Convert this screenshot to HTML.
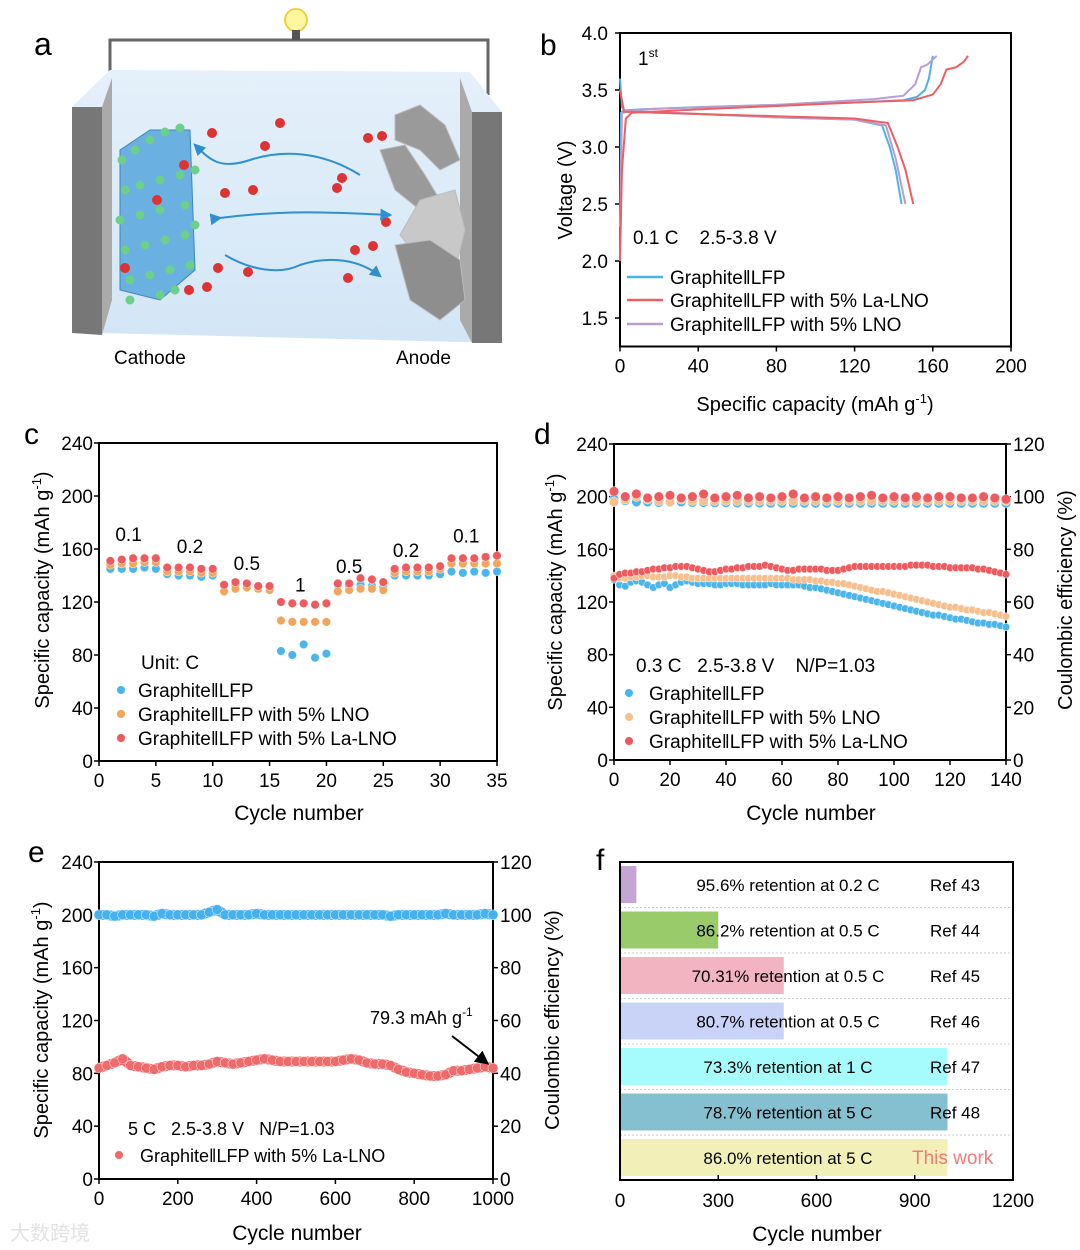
<!DOCTYPE html>
<html><head><meta charset="utf-8"><style>
body{margin:0;background:#fff}
svg{display:block;font-family:"Liberation Sans",Arial,sans-serif}
.pre{white-space:pre}
</style></head><body>
<svg id="fig" width="1080" height="1250" viewBox="0 0 1080 1250" xmlns="http://www.w3.org/2000/svg">
<defs>
<linearGradient id="water" x1="0" y1="0" x2="0" y2="1"><stop offset="0" stop-color="#e4f0fa"/><stop offset="1" stop-color="#d3e6f6"/></linearGradient>
<marker id="ah" viewBox="0 0 10 10" refX="8" refY="5" markerWidth="6" markerHeight="6" orient="auto"><path d="M0,0 L10,5 L0,10 z" fill="#2f8fcf"/></marker>
<marker id="ahk" viewBox="0 0 10 10" refX="8" refY="5" markerWidth="7" markerHeight="7" orient="auto"><path d="M0,0 L10,5 L0,10 z" fill="#000"/></marker>
</defs>
<g>
<text x="34" y="55" font-size="32">a</text>
<polyline points="110,82 110,40 488,40 488,95" fill="none" stroke="#666" stroke-width="3"/>
<circle cx="296" cy="20" r="11" fill="#fff6a0" stroke="#f0d040" stroke-width="2"/>
<rect x="292" y="30" width="8" height="10" fill="#555"/>
<polygon points="110,70 470,72 502,112 502,343 100,333 72,107" fill="url(#water)"/>
<polygon points="72,107 102,107 102,335 72,333" fill="#777"/>
<polygon points="102,107 112,78 112,300 102,335" fill="#aaa"/>
<polygon points="472,112 502,112 502,343 472,343" fill="#777"/>
<polygon points="460,78 472,112 472,343 460,320" fill="#aaa"/>
<g fill="#6ab0e0" stroke="#3a88c0" stroke-width="1">
<polygon points="120,150 150,130 190,130 195,270 160,300 120,290"/>
</g>
<g id="crystalDots" fill="#6ccf8a"></g>
<g fill="#9a9a9a" stroke="#bbb" stroke-width="1">
<polygon points="395,115 420,105 445,125 460,160 440,170 420,150 395,140"/>
<polygon points="380,150 405,145 425,175 440,200 420,210 395,190"/>
<polygon points="420,200 455,190 465,230 455,270 420,260 400,235" fill="#c8c8c8"/>
<polygon points="395,245 430,240 460,260 465,300 440,320 410,300" fill="#8e8e8e"/>
</g>
<g id="ions" fill="#d33"></g>
<path d="M360,175 C320,150 280,150 250,160 C220,170 210,160 195,145" fill="none" stroke="#2f8fcf" stroke-width="2" marker-end="url(#ah)"/>
<path d="M220,218 C280,210 330,212 390,215" fill="none" stroke="#2f8fcf" stroke-width="2" marker-end="url(#ah)" marker-start="url(#ah)"/>
<path d="M225,255 C250,270 280,275 300,265 C330,255 360,260 380,276" fill="none" stroke="#2f8fcf" stroke-width="2" marker-end="url(#ah)"/>
<text x="114" y="364" font-size="19">Cathode</text>
<text x="396" y="364" font-size="19">Anode</text>
</g>
<g id="charts"></g>
</svg>
<script>
// ===== Panel b data =====
const bBlueChgX=[0,0.5,2,10,40,80,120,145,152,156,158,160];
const bBlueChgY=[2.0,3.3,3.32,3.33,3.35,3.37,3.39,3.41,3.44,3.5,3.6,3.8];
const bBlueDisX=[0,1,3,40,80,120,134,138,141,144];
const bBlueDisY=[3.6,3.35,3.31,3.29,3.26,3.24,3.19,3.0,2.8,2.5];
const bRedChgX=[0,1,3,6,40,80,120,150,160,164,167,172,176,178];
const bRedChgY=[2.0,2.8,3.25,3.3,3.33,3.36,3.39,3.41,3.46,3.55,3.68,3.7,3.75,3.8];
const bRedDisX=[0,2,40,80,120,137,142,146,150];
const bRedDisY=[3.5,3.31,3.29,3.27,3.25,3.21,3.0,2.8,2.5];
const bPurChgX=[0,1,10,80,130,145,151,154,157,162];
const bPurChgY=[2.3,3.3,3.33,3.37,3.42,3.45,3.55,3.7,3.72,3.8];
const bPurDisX=[0,2,80,120,136,141,146];
const bPurDisY=[3.5,3.32,3.26,3.24,3.19,2.9,2.5];
const bXTicks=[0,40,80,120,160,200];
const bYTicks=["1.5","2.0","2.5","3.0","3.5","4.0"];
// ===== Panel c data =====
const cBlue=[145,145,145,146,145,141,140,140,139,140,133,133,131,132,132,83,80,88,78,81,133,132,133,132,131,140,140,140,140,141,143,142,143,142,143];
const cOrange=[148,149,149,150,150,143,143,143,142,142,128,130,131,130,129,106,105,105,105,105,128,129,130,130,129,142,143,143,143,145,149,149,149,149,149];
const cRed=[151,152,153,153,153,146,146,146,145,145,133,135,134,132,132,120,119,119,118,119,134,134,138,137,135,145,146,146,146,147,153,153,153,154,155];
const cXTicks=[0,5,10,15,20,25,30,35];
const cYTicks=[0,40,80,120,160,200,240];
const cRateLabels=["0.1","0.2","0.5","1","0.5","0.2","0.1"];
const cRateX=[2.6,8,13,17.7,22,27,32.3];
const cRateY=[166,157,144,128,142,154,165];
// ===== Panel d data (every 2 cycles) =====
const dBlue=[137,133,132,135,136,135,133,131,133,134,131,133,135,136,135,134,134,134,133,133,134,134,134,133,133,133,133,133,134,133,133,133,133,133,132,131,131,130,129,128,127,126,125,124,123,122,121,120,119,118,117,116,115,114,113,112,111,110,110,109,108,107,107,106,105,104,104,103,103,102,101];
const dOrange=[140,138,138,139,139,140,140,139,139,139,140,140,139,139,138,138,138,138,138,138,138,138,138,138,138,138,138,138,138,138,138,138,137,137,137,137,136,136,135,135,134,134,133,132,131,130,129,128,128,127,126,125,124,123,122,121,120,119,118,117,116,116,115,114,114,113,112,112,111,110,109];
const dRed=[138,141,142,142,143,143,144,145,145,146,146,147,147,147,146,145,144,143,143,144,145,145,146,146,147,147,147,148,147,146,145,144,144,145,145,145,145,145,144,144,144,145,146,147,147,147,147,147,147,147,147,147,147,148,148,148,148,147,147,147,146,146,146,146,146,145,145,144,143,142,141];
const dCEBlue=[99,98.5,98,98,97.8,98,98,97.8,97.8,97.7,97.7,97.6,97.6,97.6,97.5,97.5,97.5,97.5,97.5,97.5,97.5,97.5,97.5,97.5,97.5,97.5,97.5,97.5,97.5,97.5,97.5,97.5,97.5,97.5,97.5,97.5];
const dCEOrange=[98,99,100,99,98.5,98,99,98.5,98.5,98.5,98.5,98.5,98.5,98.5,98.5,98.5,98.5,98.5,98.5,98.5,98.5,98.5,98.5,98.5,98.5,98.5,98.5,98.5,98.5,98.5,98.5,98.5,98.5,98.5,98.5,98.5];
const dCERed=[102,100,101,99.5,100,100.5,99.5,100,101,99.5,100,100.5,99.5,100,99.5,100,101,99.5,100,99.5,100,99.5,100,100.5,99.5,100,99.5,100,99.5,100,100,99.5,99.5,100,99.5,99];
const dXTicks=[0,20,40,60,80,100,120,140];
const dYTicks=[0,40,80,120,160,200,240];
const dY2Ticks=[0,20,40,60,80,100,120];
// ===== Panel e data (every 20 cycles) =====
const eRed=[84,86,88,91,86,85,84,83,85,86,86,85,86,86,87,89,88,87,88,89,90,91,90,89,89,89,89,89,89,89,89,90,91,90,88,87,87,86,83,81,80,79,78,78,79,82,82,83,84,85,84];
const eCE=[100,100,99.5,100,100,100,100,99.5,100.5,100,100,100,100,100,101,102,100,100,100,100,100.5,100,100,100,100,100,100,100,100,100,100,100,100,100,100,100,100,99.5,100,100,100,100,100,100,100.5,100,100,100,100,100.5,100];
const eXTicks=[0,200,400,600,800,1000];
const eYTicks=[0,40,80,120,160,200,240];
const eY2Ticks=[0,20,40,60,80,100,120];
// ===== Panel f data =====
const fCycles=[50,300,500,500,1000,1000,1000];
const fLabels=["95.6% retention at 0.2 C","86.2% retention at 0.5 C","70.31% retention at 0.5 C","80.7% retention at 0.5 C","73.3% retention at 1 C","78.7% retention at 5 C","86.0% retention at 5 C"];
const fRefs=["Ref 43","Ref 44","Ref 45","Ref 46","Ref 47","Ref 48","This work"];
const fColors=["#c3a6d3","#9acb6a","#f3b4c2","#c9d3f7","#a6fcfc","#85c0d0","#f2f0b8"];
const fXTicks=[0,300,600,900,1200];

const NS="http://www.w3.org/2000/svg";
const root=document.getElementById('charts');
function mk(tag,attrs,parent){const e=document.createElementNS(NS,tag);for(const k in attrs)e.setAttribute(k,attrs[k]);(parent||root).appendChild(e);return e;}
function txt(x,y,s,size,anchor,parent,extra){const t=mk('text',Object.assign({x:x,y:y,'font-size':size,'text-anchor':anchor||'start'},extra||{}),parent);t.textContent=s;return t;}

// ---- Panel b ----
(function(){
 const g=mk('g',{});
 
 
 const X=v=>620+v/200*391, Y=v=>33+(4-v)*114;
 const L=txt(540,55,'b',30,'start',g);
 
 
 const fr=mk('rect',{x:620,y:33,width:391,height:Y(1.25)-33,fill:'none',stroke:'#000','stroke-width':2},g);
 
 
 bXTicks.forEach(v=>{mk('line',{x1:X(v),x2:X(v),y1:Y(1.25),y2:Y(1.25)+5,stroke:'#000','stroke-width':1.5},g);const t=txt(X(v),Y(1.25)+26,String(v),19,'middle',g);});
 bYTicks.forEach(s=>{const v=parseFloat(s);mk('line',{x1:620,x2:615,y1:Y(v),y2:Y(v),stroke:'#000','stroke-width':1.5},g);const t=txt(608,Y(v)+7,s,19,'end',g);});
 const series=[[bBlueChgX,bBlueChgY,'#4cb3ea','blue-charge'],[bBlueDisX,bBlueDisY,'#4cb3ea','blue-discharge'],[bPurChgX,bPurChgY,'#b99dd0','lno-charge'],[bPurDisX,bPurDisY,'#b99dd0','lno-discharge'],[bRedChgX,bRedChgY,'#ec6063','la-lno-charge'],[bRedDisX,bRedDisY,'#ec6063','la-lno-discharge']];
 series.forEach(s=>{const p=mk('polyline',{points:s[0].map((x,i)=>X(x)+','+Y(s[1][i])).join(' '),fill:'none',stroke:s[2],'stroke-width':2},g);});
 const t1=txt(638,65,'1',19,'start',g);const sp=mk('tspan',{dy:-8,'font-size':12},t1);sp.textContent='st';
 
 const c1=txt(633,244,'0.1 C    2.5-3.8 V',19,'start',g,{'class':'pre'});
 [['GraphiteǁLFP','#4cb3ea',277],['GraphiteǁLFP with 5% La-LNO','#ec6063',300],['GraphiteǁLFP with 5% LNO','#b99dd0',324]].forEach(l=>{
  const ln=mk('line',{x1:627,x2:663,y1:l[2],y2:l[2],stroke:l[1],'stroke-width':2.5},g);
  const t=txt(670,l[2]+7,l[0],19,'start',g);});
 const xt=txt(815,411,'Specific capacity (mAh g',20,'middle',g);const s1=mk('tspan',{dy:-8,'font-size':13},xt);s1.textContent='-1';const s2=mk('tspan',{dy:8},xt);s2.textContent=')';
 
 const yt=txt(0,0,'Voltage (V)',20,'middle',g,{transform:'translate(572,190) rotate(-90)'});
})();

function capTitle(g,x,cy,name){const t=txt(0,0,'Specific capacity (mAh g',20,'middle',g,{transform:'translate('+x+','+cy+') rotate(-90)'});const a=mk('tspan',{dy:-8,'font-size':13},t);a.textContent='-1';const b=mk('tspan',{dy:8},t);b.textContent=')';}
function axesBox(g,x0,y0,w,h,xt,yt,X,Y,tag,y2,Y2){
 const fr=mk('rect',{x:x0,y:y0,width:w,height:h,fill:'none',stroke:'#000','stroke-width':2},g);
 
 xt.forEach(v=>{mk('line',{x1:X(v),x2:X(v),y1:y0+h,y2:y0+h+5,stroke:'#000','stroke-width':1.5},g);const t=txt(X(v),y0+h+26,String(v),19,'middle',g);});
 yt.forEach(v=>{mk('line',{x1:x0,x2:x0-5,y1:Y(v),y2:Y(v),stroke:'#000','stroke-width':1.5},g);const t=txt(x0-6,Y(v)+7,String(v),19,'end',g);});
 if(y2)y2.forEach(v=>{mk('line',{x1:x0+w,x2:x0+w+5,y1:Y2(v),y2:Y2(v),stroke:'#000','stroke-width':1.5},g);const t=txt(x0+w+7,Y2(v)+7,String(v),19,'start',g);});
}
function dot(g,x,y,r,col,name){const c=mk('circle',{cx:x,cy:y,r:r,fill:col,stroke:'#fff','stroke-width':0.6,'stroke-opacity':0.7},g);return c;}

// ---- Panel c ----
(function(){
 const g=mk('g',{});
 const X=v=>99+v/35*398, Y=v=>761-v/240*318;
 const L=txt(24,444,'c',30,'start',g);
 axesBox(g,99,443,398,318,cXTicks,cYTicks,X,Y,'c');
 [[cBlue,'#4cb6ec'],[cOrange,'#f2a55c'],[cRed,'#ee5a5e']].forEach(s=>s[0].forEach((v,i)=>dot(g,X(i+1),Y(v),4.3,s[1],'rate-point')));
 cRateLabels.forEach((s,i)=>{const t=txt(X(cRateX[i]),Y(cRateY[i]),s,19,'middle',g);});
 const u=txt(141,669,'Unit: C',19,'start',g);
 [['GraphiteǁLFP','#4cb6ec',690],['GraphiteǁLFP with 5% LNO','#f2a55c',714],['GraphiteǁLFP with 5% La-LNO','#ee5a5e',738]].forEach(l=>{dot(g,121,l[2],4.3,l[1],'legend-marker-c');const t=txt(138,l[2]+7,l[0],19,'start',g);});
 capTitle(g,49,590,'y-axis-title-c');
 const xt=txt(299,820,'Cycle number',21,'middle',g);
})();

// ---- Panel d ----
(function(){
 const g=mk('g',{});
 const X=v=>614+v/140*392, Y=v=>760-v/240*316, Y2=v=>760-v/120*316;
 const L=txt(534,444,'d',30,'start',g);
 axesBox(g,614,444,392,316,dXTicks,dYTicks,X,Y,'d',dY2Ticks,Y2);
 [[dCEBlue,'#4cb6ec'],[dCEOrange,'#f6c08e'],[dCERed,'#ee5a5e']].forEach(s=>s[0].forEach((v,i)=>dot(g,X(i*4),Y2(v),4.8,s[1],'ce-point')));
 [[dBlue,'#4cb6ec'],[dOrange,'#f6c08e'],[dRed,'#ee5a5e']].forEach(s=>s[0].forEach((v,i)=>dot(g,X(i*2),Y(v),3.8,s[1],'capacity-point')));
 const a=txt(636,672,'0.3 C   2.5-3.8 V    N/P=1.03',19,'start',g,{'class':'pre'});
 [['GraphiteǁLFP','#4cb6ec',693],['GraphiteǁLFP with 5% LNO','#f6c08e',717],['GraphiteǁLFP with 5% La-LNO','#ee5a5e',741]].forEach(l=>{dot(g,629,l[2],4.3,l[1],'legend-marker-d');const t=txt(649,l[2]+7,l[0],19,'start',g);});
 capTitle(g,562,592,'y-axis-title-d');
 const yr=txt(0,0,'Coulombic efficiency (%)',20,'middle',g,{transform:'translate(1072,600) rotate(-90)'});
 const xt=txt(811,820,'Cycle number',21,'middle',g);
})();

// ---- Panel e ----
(function(){
 const g=mk('g',{});
 const X=v=>99+v/1000*394, Y=v=>1179-v/240*317, Y2=v=>1179-v/120*317;
 const L=txt(28,862,'e',30,'start',g);
 axesBox(g,99,862,394,317,eXTicks,eYTicks,X,Y,'e',eY2Ticks,Y2);
 const ce=mk('polyline',{points:eCE.map((v,i)=>X(i*20)+','+Y2(v)).join(' '),fill:'none',stroke:'#45b1f0','stroke-width':10,'stroke-linejoin':'round'},g);
 
 eCE.forEach((v,i)=>dot(g,X(i*20),Y2(v),5,'#45b1f0','ce-point-e'));
 const cp=mk('polyline',{points:eRed.map((v,i)=>X(i*20)+','+Y(v)).join(' '),fill:'none',stroke:'#ef6a6a','stroke-width':10,'stroke-linejoin':'round'},g);
 
 eRed.forEach((v,i)=>dot(g,X(i*20),Y(v),5,'#ef6a6a','capacity-point-e'));
 const an=txt(370,1024,'79.3 mAh g',18,'start',g);const s=mk('tspan',{dy:-8,'font-size':12},an);s.textContent='-1';
 
 const ar=mk('line',{x1:452,y1:1036,x2:487,y2:1063,stroke:'#000','stroke-width':2,'marker-end':'url(#ahk)'},g);
 const c=txt(128,1135,'5 C   2.5-3.8 V   N/P=1.03',18,'start',g,{'class':'pre'});
 dot(g,119,1155,4.3,'#ef6a6a','legend-marker-e');
 const le=txt(140,1162,'GraphiteǁLFP with 5% La-LNO',18,'start',g);
 capTitle(g,48,1020,'y-axis-title-e');
 const yr=txt(0,0,'Coulombic efficiency (%)',20,'middle',g,{transform:'translate(559,1020) rotate(-90)'});
 const xt=txt(297,1240,'Cycle number',21,'middle',g);
 const wm=txt(10,1240,'大数跨境',20,'start',g,{fill:'#e2e2e2','font-family':'"Liberation Sans","Noto Sans CJK SC",sans-serif'});
})();

// ---- Panel f ----
(function(){
 const g=mk('g',{});
 const X=v=>620+v/1200*393;
 const L=txt(596,870,'f',30,'start',g);
 const y0=862,h=318,pitch=45.5;
 fCycles.forEach((v,i)=>{
  const top=y0+4+i*pitch;
  if(i>0){const sl=mk('line',{x1:620,x2:1013,y1:top-4,y2:top-4,stroke:'#ccc','stroke-width':1,'stroke-dasharray':'2,2'},g);}
  const b=mk('rect',{x:X(0),y:top,width:X(v)-X(0),height:37,fill:fColors[i]},g);
  const t=txt(788,top+25,fLabels[i],17,'middle',g);
  const r=txt(i==6?912:930,top+25,fRefs[i],i==6?19:17,'start',g,i==6?{fill:'#f07a7a'}:{});
 });
 const fr=mk('rect',{x:620,y:y0,width:393,height:h,fill:'none',stroke:'#000','stroke-width':2},g);
 fXTicks.forEach(v=>{mk('line',{x1:X(v),x2:X(v),y1:y0+h,y2:y0+h-5,stroke:'#000','stroke-width':1.5},g);const t=txt(X(v),y0+h+27,String(v),19,'middle',g);});
 const xt=txt(817,1241,'Cycle number',21,'middle',g);
})();

// ---- panel a decorations ----
const crystalPts=[[122,160],[135,150],[150,140],[165,132],[180,128],[125,190],[140,185],[160,180],[180,175],[195,170],[120,220],[140,215],[160,210],[185,205],[195,225],[125,250],[145,245],[165,240],[185,235],[130,280],[150,275],[170,270],[190,265],[160,295],[175,290],[130,300]];
const cg=document.getElementById('crystalDots');
crystalPts.forEach(p=>{const c=mk('circle',{cx:p[0],cy:p[1],r:4.5},cg);});
const ionPts=[[212,133],[280,123],[265,146],[184,165],[342,178],[337,188],[225,193],[253,190],[368,138],[382,136],[386,222],[355,250],[373,246],[157,200],[218,268],[248,272],[189,290],[207,287],[348,278],[125,268]];
const ig=document.getElementById('ions');
ionPts.forEach(p=>{const c=mk('circle',{cx:p[0],cy:p[1],r:5},ig);});
</script>
</body></html>
